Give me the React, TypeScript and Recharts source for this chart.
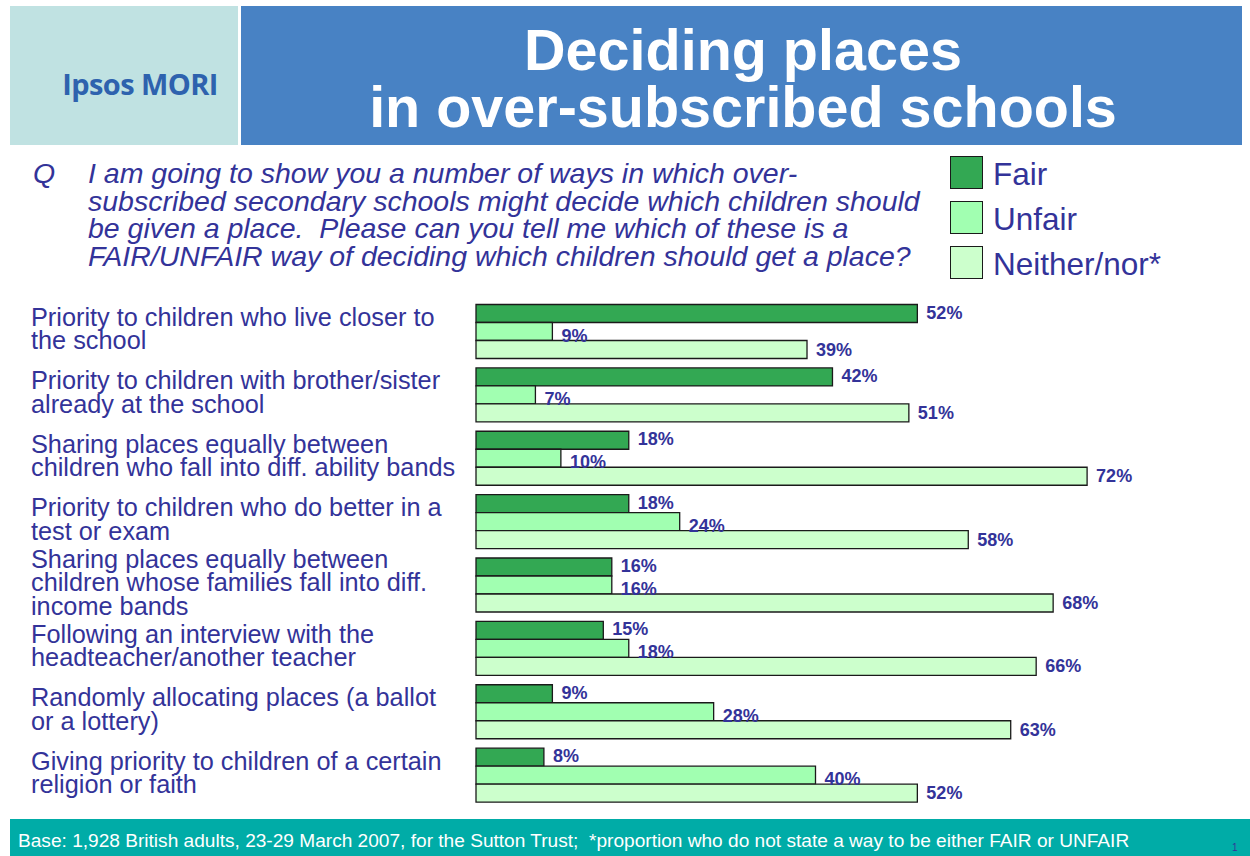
import { Bar, BarChart, LabelList, Legend, XAxis, YAxis } from "recharts";

const categories = [
  "Priority to children who live closer to\nthe school",
  "Priority to children with brother/sister\nalready at the school",
  "Sharing places equally between\nchildren who fall into diff. ability bands",
  "Priority to children who do better in a\ntest or exam",
  "Sharing places equally between\nchildren whose families fall into diff.\nincome bands",
  "Following an interview with the\nheadteacher/another teacher",
  "Randomly allocating places (a ballot\nor a lottery)",
  "Giving priority to children of a certain\nreligion or faith",
];
const fairValues = [52, 42, 18, 18, 16, 15, 9, 8];
const unfairValues = [9, 7, 10, 24, 16, 18, 28, 40];
const neitherValues = [39, 51, 72, 58, 68, 66, 63, 52];
const seriesNames = ["Fair", "Unfair", "Neither/nor*"];

const titleLines = ["Deciding places", "in over-subscribed schools"];
const questionLines = [
  "I am going to show you a number of ways in which over-",
  "subscribed secondary schools might decide which children should",
  "be given a place.  Please can you tell me which of these is a",
  "FAIR/UNFAIR way of deciding which children should get a place?",
];
const footerText =
  "Base: 1,928 British adults, 23-29 March 2007, for the Sutton Trust;  *proportion who do not state a way to be either FAIR or UNFAIR";

const FONT = '"Liberation Sans", Arial, Helvetica, sans-serif';
const INK = "#333399";

const data = categories.map((name, i) => ({
  name,
  fair: fairValues[i],
  unfair: unfairValues[i],
  neither: neitherValues[i],
}));

// dy nudges the value labels the way the original slide has them
const series = [
  { key: "fair", name: seriesNames[0], fill: "#33a853", dy: 5 },
  { key: "unfair", name: seriesNames[1], fill: "#a1ffb1", dy: 10 },
  { key: "neither", name: seriesNames[2], fill: "#ccffcc", dy: 6 },
];

const CategoryTick = (props: any) => {
  const lines = String(props.payload.value).split("\n");
  const first = props.y + 6.5 - (lines.length - 1) * 11.75;
  return (
    <text x={ 31 } y={ first } fill={ INK } fontSize={ 25.3 } fontFamily={ FONT }>
      { lines.map((l, i) => (
        <tspan key={ i } x={ 31 } y={ first + i * 23.5 }>{ l }</tspan>
      )) }
    </text>
  );
};

const valueLabel = (dy: number) => (p: any) => (
  <text x={ Number(p.x) + Number(p.width) + 9 } y={ Number(p.y) + Number(p.height) / 2 + dy }
        fill={ INK } fontSize={ 18 } fontWeight="bold" fontFamily={ FONT }>
    { p.value }%
  </text>
);

// keep the legend in series order (recharts sorts it by name otherwise)
const LegendBox = ({ payload }: any) => {
  const items = [...(payload || [])].sort((a: any, b: any) => seriesNames.indexOf(a.value) - seriesNames.indexOf(b.value));
  return (
    <div style={ { fontFamily: FONT } }>
      { items.map((e: any) => (
        <div key={ e.value } style={ { display: "flex", alignItems: "center", height: 45 } }>
          <span style={ { width: 31, height: 31, background: e.color, border: "1.5px solid #1a1a1a", marginRight: 10 } }/>
          <span style={ { fontSize: 31.5, color: INK, paddingTop: 3 } }>{ e.value }</span>
        </div>
      )) }
    </div>
  );
};

const App = () => (
  <div style={ { position: "absolute", left: 0, top: 0, width: 1250, height: 856, background: "#fff", overflow: "hidden" } }>
    <svg width={ 1250 } height={ 856 } style={ { position: "absolute", left: 0, top: 0 } } fontFamily={ FONT }>
      <rect x={ 10 } y={ 6 } width={ 228 } height={ 139 } fill="#c0e2e2"/>
      <rect x={ 241 } y={ 6 } width={ 1001 } height={ 139 } fill="#4882c4"/>
      <text x={ 140 } y={ 95 } textAnchor="middle" fill="#2e62ae" fontSize={ 29 } fontWeight={ 700 }
            fontFamily='"Open Sans", sans-serif' letterSpacing={ -0.6 }>Ipsos MORI</text>
      { titleLines.map((t, i) => (
        <text key={ t } x={ 743 } y={ 70 + i * 57 } textAnchor="middle" fill="#fff" fontSize={ 57.5 } fontWeight="bold">{ t }</text>
      )) }
      <text x={ 33 } y={ 183 } fill={ INK } fontSize={ 28.5 } fontStyle="italic">Q</text>
      { questionLines.map((t, i) => (
        <text key={ i } x={ 88 } y={ 183 + i * 27.6 } fill={ INK } fontSize={ 28.5 } fontStyle="italic"
              style={ { whiteSpace: "pre" } }>{ t }</text>
      )) }
      <rect x={ 10 } y={ 819 } width={ 1240 } height={ 37 } fill="#00aca7"/>
      <text x={ 18 } y={ 847 } fill="#fff" fontSize={ 19.1 } style={ { whiteSpace: "pre" } }>{ footerText }</text>
      <text x={ 1232 } y={ 851 } fill={ INK } fontSize={ 10 }>1</text>
    </svg>
    <div style={ { position: "absolute", left: 0, top: 0 } }>
      <BarChart width={ 1250 } height={ 856 } data={ data } layout="vertical" barSize={ 18 } barGap={ 0 }
                margin={ { top: 299.5, right: 95, bottom: 49.5, left: 0 } }>
        <XAxis type="number" domain={ [0, 80] } hide/>
        <YAxis type="category" dataKey="name" width={ 476 } axisLine={ false } tickLine={ false } interval={ 0 }
               tick={ (p: any) => <CategoryTick { ...p }/> }/>
        <Legend layout="horizontal" verticalAlign="middle" align="center" content={ <LegendBox/> }
                wrapperStyle={ { left: 950, top: 150, width: 300 } }/>
        { series.map(s => (
          <Bar key={ s.key } dataKey={ s.key } name={ s.name } fill={ s.fill } stroke="#1a1a1a" strokeWidth={ 1.3 }
               isAnimationActive={ false }>
            <LabelList dataKey={ s.key } content={ valueLabel(s.dy) }/>
          </Bar>
        )) }
      </BarChart>
    </div>
  </div>
);

export default App;
